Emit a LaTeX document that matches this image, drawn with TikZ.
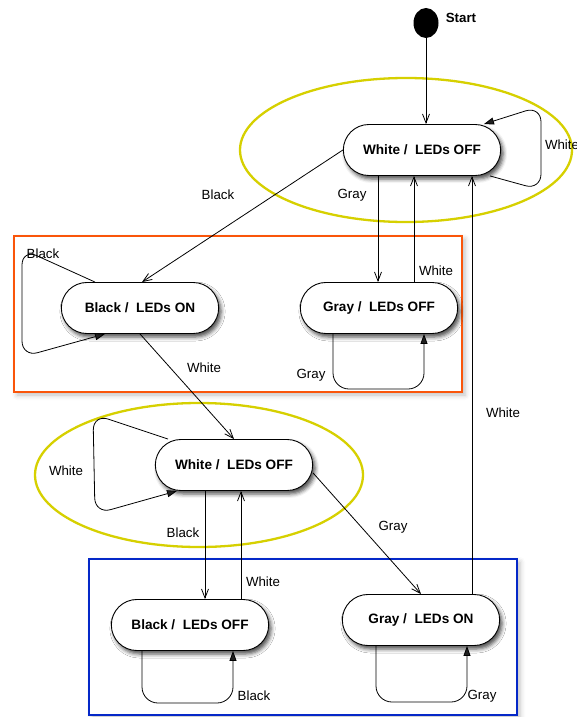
\documentclass[tikz,border=0pt]{standalone}
\usepackage{fontspec}
\setmainfont{Liberation Sans}
\usetikzlibrary{arrows.meta, shapes.misc, shapes.geometric, shadows.blur}

\definecolor{groupyellow}{RGB}{214,208,0}
\definecolor{grouporange}{RGB}{250,85,10}
\definecolor{groupblue}{RGB}{5,40,200}

\begin{document}
\begin{tikzpicture}[
    x=1pt, y=-1pt,
    font=\fontsize{13.3}{16}\selectfont,
    state/.style={draw, rounded rectangle, minimum width=164pt, minimum height=51pt, fill=white, line width=0.9pt,
        font=\fontsize{13.6}{16}\selectfont\bfseries,
        blur shadow={shadow xshift=2.5pt, shadow yshift=-3.5pt, shadow blur radius=4pt, shadow opacity=70}},
    startdot/.style={ellipse, fill=black, minimum width=25pt, minimum height=30pt, inner sep=0pt},
    lbl/.style={inner sep=1pt},
    arrow/.style={-{Straight Barb[length=9pt, width=7pt]}, line width=0.8pt},
    selfloop/.style={-{Triangle[length=10pt, width=7pt]}, line width=0.8pt, rounded corners=16pt},
    group/.style={line width=2.3pt, fill=white, blur shadow={shadow xshift=3pt, shadow yshift=-3pt, shadow blur radius=5pt, shadow opacity=25}},
    ring/.style={draw=groupyellow, line width=2.3pt}
]
\useasboundingbox (0,0) rectangle (576,717);

% groups
\draw[group, draw=grouporange] (14,236) rectangle (462,392);
\draw[group, draw=groupblue] (89,559) rectangle (517,715);
\draw[ring] (406,150) ellipse [x radius=166, y radius=72];
\draw[ring] (199,475) ellipse [x radius=164, y radius=72];

% states
\node[startdot] (start) at (426,23) {};
\node[lbl, font=\fontsize{13.3}{16}\selectfont\bfseries] (startlbl) at (461,18) {Start};
\node[state] (w1) at (422,150) {White /\ \ LEDs OFF};
\node[state] (b1) at (140,308) {Black /\ \ LEDs ON};
\node[state] (g1) at (379,308) {Gray /\ \ LEDs OFF};
\node[state] (w2) at (234,465) {White /\ \ LEDs OFF};
\node[state] (b2) at (190,625) {Black /\ \ LEDs OFF};
\node[state] (g2) at (421,620) {Gray /\ \ LEDs ON};

% transitions
\draw[arrow] (start) -- (start |- w1.north);
\draw[arrow] (w1.west) -- ([xshift=2pt]b1.north);
\draw[arrow] ([xshift=-1pt]g1.north |- w1.south) -- ([xshift=-1pt]g1.north);
\draw[arrow] ([xshift=35pt]g1.north) -- ([xshift=35pt]g1.north |- w1.south);
\draw[arrow] ([xshift=51pt]g2.north) -- ([xshift=51pt]g2.north |- w1.south);
\draw[arrow] (b1.south) -- (w2.north);
\draw[arrow] ([xshift=-29pt]w2.south) -- ([xshift=-29pt]w2.south |- b2.north);
\draw[arrow] ([xshift=7pt]w2.south |- b2.north) -- ([xshift=7pt]w2.south);
\draw[arrow] ([yshift=-8pt]w2.east) -- (g2.north);

% self loops
\draw[selfloop] ([xshift=68pt]w1.south) -- (541,190) -- (541,106) -- ([xshift=62pt]w1.north);
\draw[selfloop] ([xshift=-45pt]b1.north) -- (22,249) -- (22,357) -- ([xshift=-35pt]b1.south);
\draw[selfloop] ([xshift=-46pt]g1.south) -- (333,389) -- (424,389) -- ([xshift=45pt]g1.south);
\draw[selfloop] ([xshift=-66pt]w2.north) -- (93,414) -- (95,514) -- ([xshift=-57pt]w2.south);
\draw[selfloop] ([xshift=-48pt]b2.south) -- (142,703) -- (233,703) -- ([xshift=43pt]b2.south);
\draw[selfloop] ([xshift=-45pt]g2.south) -- (376,702) -- (467,702) -- ([xshift=46pt]g2.south);

% labels
\node[lbl] (lw1) at (562,145) {White};
\node[lbl] (lb1) at (218,195) {Black};
\node[lbl] (lg1) at (352,195) {Gray};
\node[lbl] (lw2) at (436,271) {White};
\node[lbl] (lb2) at (43,254) {Black};
\node[lbl] (lw3) at (204,368) {White};
\node[lbl] (lg2) at (311,375) {Gray};
\node[lbl] (lw4) at (503,413) {White};
\node[lbl] (lw5) at (66,471) {White};
\node[lbl] (lb3) at (183,533) {Black};
\node[lbl] (lg3) at (393,527) {Gray};
\node[lbl] (lw6) at (263,582) {White};
\node[lbl] (lb4) at (254,696) {Black};
\node[lbl] (lg4) at (482,696) {Gray};

\end{tikzpicture}
\end{document}
